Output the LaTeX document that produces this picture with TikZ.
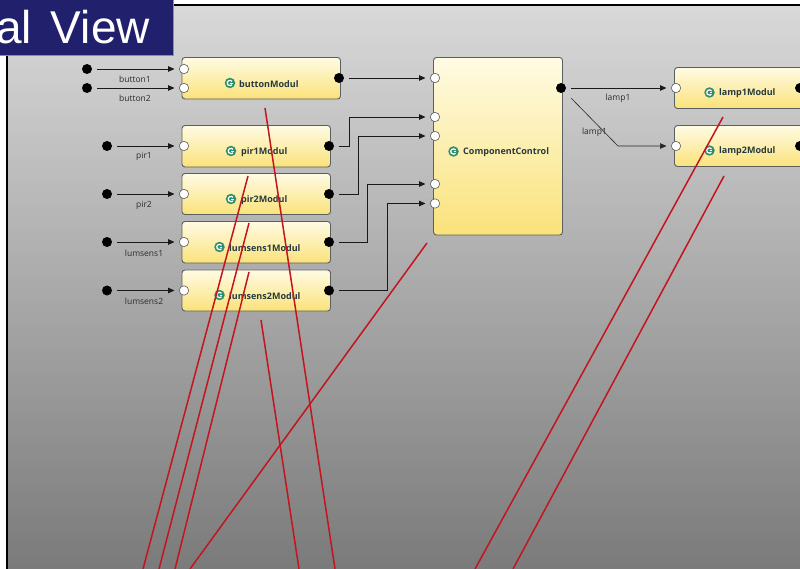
\documentclass[tikz,border=0pt]{standalone}
\usepackage{fontspec}
\setmainfont{Open Sans}
\newfontfamily\titlefont{Liberation Sans}
\usetikzlibrary{arrows.meta}
\definecolor{navy}{HTML}{20206C}
\definecolor{redline}{HTML}{C4141E}
\definecolor{boxedge}{HTML}{5A5F62}
\definecolor{boxtop}{HTML}{FFFBE4}
\definecolor{boxbot}{HTML}{FAE27A}
\definecolor{icongreen}{HTML}{2F8F6C}
\definecolor{labelgray}{HTML}{2E2A2E}
\definecolor{modtext}{HTML}{263A3E}
\tikzset{
  x=1pt,y=-1pt,
  modbox/.style={draw=boxedge,line width=0.9pt,rounded corners=3pt,top color=boxtop,bottom color=boxbot,minimum height=0pt},
  modname/.style={font=\fontsize{9}{10}\selectfont\bfseries,text=modtext,inner sep=0pt},
  inport/.style={circle,draw=boxedge,line width=0.6pt,fill=white,minimum size=9.4pt,inner sep=0pt},
  outport/.style={circle,fill=black,minimum size=10pt,inner sep=0pt},
  srcdot/.style={circle,fill=black,minimum size=10pt,inner sep=0pt},
  wire/.style={line width=0.85pt,color=black!90,-{Triangle[length=6.5pt,width=5.5pt]},shorten >=4.5pt,shorten <=5pt},
  thinwire/.style={wire,line width=0.6pt,color=black!85},
  wlabel/.style={font=\fontsize{8.5}{10}\selectfont,text=labelgray,inner sep=0pt},
  redstroke/.style={color=redline,line width=1.5pt},
  iconmark/.style={circle,fill=icongreen,minimum size=10.5pt,inner sep=0pt},
}
\newcommand{\compicon}[3]{%
  \node[iconmark] (#1) at (#2,#3) {};
  \draw[white,line width=1.2pt] (#2+2,#3-1.7) arc[start angle=40,end angle=320,radius=2.7pt];
  \draw[white,line width=1pt] (#2+0.2,#3+0.2) -- (#2+2.9,#3+0.2);
}
\begin{document}
\begin{tikzpicture}
\useasboundingbox (0,0) rectangle (800,569);
\clip (0,0) rectangle (800,569);
\fill[white] (0,0) rectangle (800,569);
\shade[top color=black!15,bottom color=black!52] (7,5) rectangle (800,569);
\draw[black,line width=2.2pt] (7,569) -- (7,5) -- (800,5);

% boxes
\path[modbox] (182,57.5) rectangle (340.5,99);
\path[modbox] (182,125.5) rectangle (330.5,167);
\path[modbox] (182,173.5) rectangle (330.5,214.5);
\path[modbox] (182,221.5) rectangle (330.5,263);
\path[modbox] (182,270) rectangle (330.5,311);
\path[modbox] (433.5,57.5) rectangle (562.5,235);
\path[modbox] (674.5,67.5) rectangle (810,108.5);
\path[modbox] (674.5,125.5) rectangle (810,166.5);

% names and icons
\node[modname,anchor=west] (nbtn) at (239,84) {buttonModul};
\node[modname,anchor=west] (npir1) at (241,152) {pir1Modul};
\node[modname,anchor=west] (npir2) at (241,200) {pir2Modul};
\node[modname,anchor=west] (nls1) at (229,248) {lumsens1Modul};
\node[modname,anchor=west] (nls2) at (229,296) {lumsens2Modul};
\node[modname,anchor=west] (ncc) at (463,152.5) {ComponentControl};
\node[modname,anchor=west] (nl1) at (719,93.5) {lamp1Modul};
\node[modname,anchor=west] (nl2) at (719,151.5) {lamp2Modul};
\compicon{ibtn}{230}{83}
\compicon{ipir1}{231}{151}
\compicon{ipir2}{231}{199}
\compicon{ils1}{219.5}{247}
\compicon{ils2}{219.5}{295}
\compicon{icc}{453.5}{151.5}
\compicon{il1}{709.5}{92.5}
\compicon{il2}{709.5}{150.5}

% ports
\node[inport] (bi1) at (184,69) {};
\node[inport] (bi2) at (184,88) {};
\node[outport] (bo) at (339,78) {};
\node[inport] (p1i) at (184,146) {};
\node[outport] (p1o) at (329,146) {};
\node[inport] (p2i) at (184,194) {};
\node[outport] (p2o) at (329,194) {};
\node[inport] (l1i) at (184,242) {};
\node[outport] (l1o) at (329,242) {};
\node[inport] (l2i) at (184,290.5) {};
\node[outport] (l2o) at (329,290.5) {};
\node[inport] (c1) at (435,78) {};
\node[inport] (c2) at (435,117) {};
\node[inport] (c3) at (435,136) {};
\node[inport] (c4) at (435,184) {};
\node[inport] (c5) at (435,203.5) {};
\node[outport] (co) at (561,88) {};
\node[inport] (la1i) at (676,88) {};
\node[inport] (la2i) at (676,146) {};
\node[outport] (la1o) at (800,88) {};
\node[outport] (la2o) at (800,146) {};

% source dots
\node[srcdot] (s1) at (87,69) {};
\node[srcdot] (s2) at (87,88) {};
\node[srcdot] (s3) at (107,146) {};
\node[srcdot] (s4) at (107,194) {};
\node[srcdot] (s5) at (107,242) {};
\node[srcdot] (s6) at (107,290.5) {};

% connectors
\draw[wire] (s1) -- (bi1);
\draw[wire] (s2) -- (bi2);
\draw[wire] (s3) -- (p1i);
\draw[wire] (s4) -- (p2i);
\draw[wire] (s5) -- (l1i);
\draw[wire] (s6) -- (l2i);
\draw[wire] (bo) -- (c1);
\coordinate (e1) at (349,117);
\coordinate (e2) at (358,136);
\coordinate (e3) at (367,184);
\coordinate (e4) at (387,203.5);
\draw[wire] (p1o) -| (e1) -- (c2);
\draw[wire] (p2o) -| (e2) -- (c3);
\draw[wire] (l1o) -| (e3) -- (c4);
\draw[wire] (l2o) -| (e4) -- (c5);
\draw[wire] (co) -- (la1i);
\coordinate (f1) at (571,98);
\coordinate (f2) at (618,146);
\draw[thinwire,shorten <=0pt] (f1) -- (f2) -- (la2i);

% labels
\node[wlabel] (w1) at (135,79) {button1};
\node[wlabel] (w2) at (135,98.5) {button2};
\node[wlabel] (w3) at (144,156.5) {pir1};
\node[wlabel] (w4) at (144,205) {pir2};
\node[wlabel] (w5) at (144,253) {lumsens1};
\node[wlabel] (w6) at (144,301) {lumsens2};
\node[wlabel] (w7) at (618,98.5) {lamp1};
\node[wlabel] (w8) at (594.5,132) {lamp1};

% red strokes
\draw[redstroke] (265,108) -- (335,569);
\draw[redstroke] (248,176) -- (143,569);
\draw[redstroke] (249,223) -- (159,569);
\draw[redstroke] (249,272) -- (175,569);
\draw[redstroke] (427,243) -- (190,569);
\draw[redstroke] (261,320) -- (299,569);
\draw[redstroke] (723,117) -- (475,569);
\draw[redstroke] (724,176) -- (513,569);

% title
\fill[navy] (-2,-2) rectangle (173.5,55);
\draw[black!20!cyan!30!gray,line width=0.6pt] (173.5,0) -- (173.5,55) -- (0,55);
\node[anchor=base east,inner sep=0pt,text=white,font=\titlefont\fontsize{46}{50}\selectfont] (ttl) at (150,44) {al\hspace{6pt} View};
\end{tikzpicture}
\end{document}
